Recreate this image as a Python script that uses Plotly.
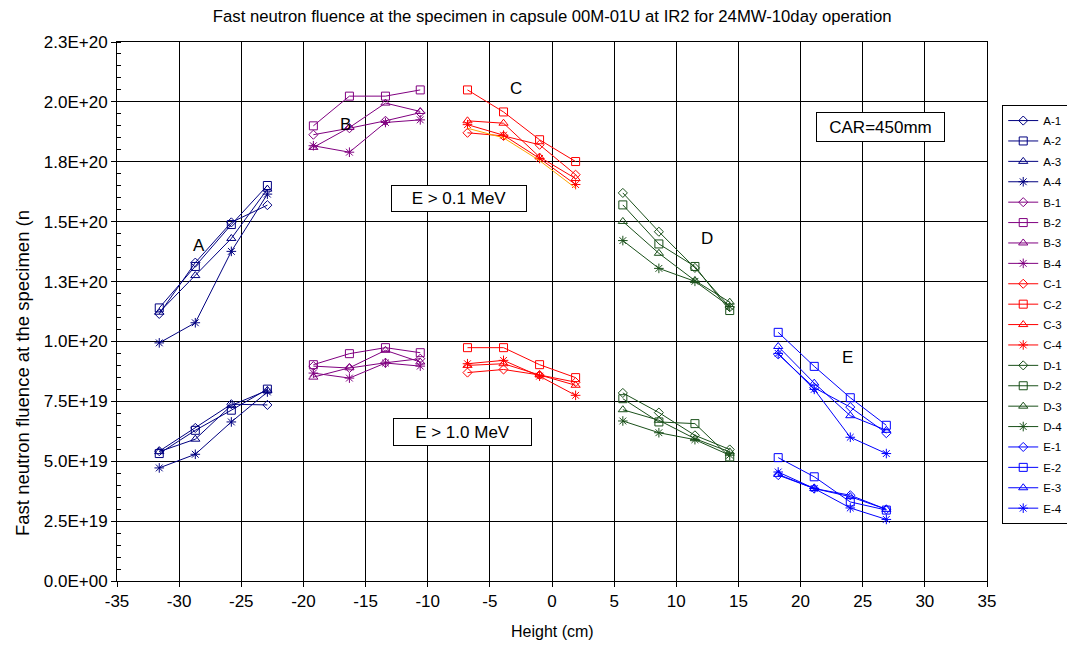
import plotly.graph_objects as go

# ---- data ----
heights_A = [-31.6, -28.7, -25.8, -22.9]
heights_B = [-19.2, -16.3, -13.4, -10.6]
heights_C = [-6.8, -3.9, -1.0, 1.9]
heights_D = [5.7, 8.6, 11.5, 14.3]
heights_E = [18.2, 21.1, 24.0, 26.9]

# E > 0.1 MeV (upper group)
A1_hi = [1.115e20, 1.329e20, 1.497e20, 1.569e20]
A2_hi = [1.140e20, 1.313e20, 1.488e20, 1.651e20]
A3_hi = [1.122e20, 1.275e20, 1.430e20, 1.636e20]
A4_hi = [0.994e20, 1.078e20, 1.376e20, 1.615e20]
B1_hi = [1.863e20, 1.890e20, 1.921e20, 1.955e20]
B2_hi = [1.900e20, 2.024e20, 2.024e20, 2.050e20]
B3_hi = [1.810e20, 1.893e20, 1.995e20, 1.960e20]
B4_hi = [1.817e20, 1.790e20, 1.914e20, 1.925e20]
C1_hi = [1.871e20, 1.858e20, 1.821e20, 1.696e20]
C2_hi = [2.050e20, 1.958e20, 1.842e20, 1.751e20]
C3_hi = [1.921e20, 1.911e20, 1.770e20, 1.680e20]
C4_hi = [1.905e20, 1.861e20, 1.764e20, 1.655e20]
C_extra_hi = [1.890e20, 1.850e20, 1.755e20, 1.640e20]
D1_hi = [1.620e20, 1.458e20, 1.307e20, 1.143e20]
D2_hi = [1.570e20, 1.407e20, 1.313e20, 1.129e20]
D3_hi = [1.501e20, 1.368e20, 1.254e20, 1.164e20]
D4_hi = [1.421e20, 1.305e20, 1.251e20, 1.146e20]
E1_hi = [0.946e20, 0.807e20, 0.726e20, 0.617e20]
E2_hi = [1.038e20, 0.896e20, 0.765e20, 0.650e20]
E3_hi = [0.979e20, 0.826e20, 0.690e20, 0.629e20]
E4_hi = [0.950e20, 0.800e20, 0.600e20, 0.532e20]

# E > 1.0 MeV (lower group)
A1_lo = [0.542e20, 0.639e20, 0.738e20, 0.735e20]
A2_lo = [0.532e20, 0.629e20, 0.713e20, 0.801e20]
A3_lo = [0.540e20, 0.592e20, 0.733e20, 0.796e20]
A4_lo = [0.472e20, 0.529e20, 0.664e20, 0.789e20]
B1_lo = [0.897e20, 0.889e20, 0.911e20, 0.928e20]
B2_lo = [0.903e20, 0.949e20, 0.974e20, 0.953e20]
B3_lo = [0.851e20, 0.890e20, 0.963e20, 0.914e20]
B4_lo = [0.868e20, 0.847e20, 0.910e20, 0.897e20]
C1_lo = [0.870e20, 0.883e20, 0.860e20, 0.830e20]
C2_lo = [0.974e20, 0.974e20, 0.903e20, 0.849e20]
C3_lo = [0.900e20, 0.907e20, 0.860e20, 0.817e20]
C4_lo = [0.907e20, 0.921e20, 0.855e20, 0.775e20]
D1_lo = [0.785e20, 0.703e20, 0.608e20, 0.549e20]
D2_lo = [0.761e20, 0.664e20, 0.657e20, 0.518e20]
D3_lo = [0.715e20, 0.671e20, 0.594e20, 0.539e20]
D4_lo = [0.668e20, 0.619e20, 0.590e20, 0.525e20]
E1_lo = [0.442e20, 0.386e20, 0.358e20, 0.299e20]
E2_lo = [0.515e20, 0.435e20, 0.330e20, 0.296e20]
E3_lo = [0.445e20, 0.386e20, 0.352e20, 0.299e20]
E4_lo = [0.455e20, 0.386e20, 0.305e20, 0.257e20]

y_tickvals = [0, 2.5e19, 5.0e19, 7.5e19, 1.0e20, 1.25e20, 1.5e20, 1.75e20, 2.0e20, 2.25e20]
y_ticktext = ["0.0E+00", "2.5E+19", "5.0E+19", "7.5E+19", "1.0E+20", "1.3E+20",
              "1.5E+20", "1.8E+20", "2.0E+20", "2.3E+20"]
x_tickvals = [-35, -30, -25, -20, -15, -10, -5, 0, 5, 10, 15, 20, 25, 30, 35]
x_ticktext = ["-35", "-30", "-25", "-20", "-15", "-10", "-5", "0", "5", "10", "15", "20", "25", "30", "35"]

series = [
    ("A-1", heights_A, A1_hi, A1_lo), ("A-2", heights_A, A2_hi, A2_lo),
    ("A-3", heights_A, A3_hi, A3_lo), ("A-4", heights_A, A4_hi, A4_lo),
    ("B-1", heights_B, B1_hi, B1_lo), ("B-2", heights_B, B2_hi, B2_lo),
    ("B-3", heights_B, B3_hi, B3_lo), ("B-4", heights_B, B4_hi, B4_lo),
    ("C-1", heights_C, C1_hi, C1_lo), ("C-2", heights_C, C2_hi, C2_lo),
    ("C-3", heights_C, C3_hi, C3_lo), ("C-4", heights_C, C4_hi, C4_lo),
    ("D-1", heights_D, D1_hi, D1_lo), ("D-2", heights_D, D2_hi, D2_lo),
    ("D-3", heights_D, D3_hi, D3_lo), ("D-4", heights_D, D4_hi, D4_lo),
    ("E-1", heights_E, E1_hi, E1_lo), ("E-2", heights_E, E2_hi, E2_lo),
    ("E-3", heights_E, E3_hi, E3_lo), ("E-4", heights_E, E4_hi, E4_lo),
]

colors = {"A": "#000080", "B": "#800080", "C": "#FF0000", "D": "#1A501A", "E": "#0000FF"}
symbols = {"1": "diamond-open", "2": "square-open", "3": "triangle-up-open", "4": "asterisk-open"}
sizes = {"1": 7, "2": 8, "3": 8, "4": 8}

FONT = "Arial, 'Liberation Sans', sans-serif"

fig = go.Figure()
for name, h, hi, lo in series:
    g, k = name.split("-")
    c = colors[g]
    fig.add_trace(go.Scatter(
        x=list(h) + [None] + list(h),
        y=list(hi) + [None] + list(lo),
        mode="lines+markers", name=name, legendgroup=name, connectgaps=False,
        line=dict(color=c, width=1),
        marker=dict(symbol=symbols[k], size=sizes[k], color=c, line=dict(color=c, width=1)),
    ))

fig.add_trace(go.Scatter(
    x=heights_C, y=C_extra_hi, mode="lines", showlegend=False,
    line=dict(color="#FFA500", width=1),
))

annotations = []
for txt, ax, ay in [("A", -28.4, 1.40e20), ("B", -16.6, 1.904e20), ("C", -2.9, 2.054e20),
                    ("D", 12.5, 1.429e20), ("E", 23.8, 0.933e20)]:
    annotations.append(dict(x=ax, y=ay, text=txt, showarrow=False,
                            font=dict(family=FONT, size=17, color="black")))
for txt, ax, ay, w, hgt in [("E > 0.1 MeV", -7.48, 1.596e20, 134, 25),
                            ("E > 1.0 MeV", -7.24, 0.621e20, 137, 26),
                            ("CAR=450mm", 26.4, 1.896e20, 127, 28)]:
    annotations.append(dict(x=ax, y=ay, text=txt, showarrow=False, width=w, height=hgt,
                            bordercolor="black", borderwidth=1, borderpad=0, bgcolor="white",
                            font=dict(family=FONT, size=17, color="black")))
annotations.append(dict(
    x=-0.108, y=0.386, xref="paper", yref="paper", xanchor="center", yanchor="middle",
    text="Fast neutron fluence at the specimen (n", textangle=-90, showarrow=False,
    font=dict(family=FONT, size=18.5, color="black")))
annotations.append(dict(
    x=0.5, y=-0.0946, xref="paper", yref="paper", xanchor="center", yanchor="middle",
    text="Height (cm)", showarrow=False,
    font=dict(family=FONT, size=16, color="black")))

fig.update_layout(
    width=1067, height=637,
    margin=dict(l=109, r=88, t=34, b=64, autoexpand=False),
    paper_bgcolor="white", plot_bgcolor="white",
    font=dict(family=FONT, size=13, color="black"),
    title=dict(text="Fast neutron fluence at the specimen in capsule 00M-01U at IR2 for 24MW-10day operation",
               x=0.51, xanchor="center", y=0.9874, yanchor="middle",
               font=dict(family=FONT, size=16.7, color="black")),
    showlegend=True,
    legend=dict(x=1.0175, xanchor="left", y=0.883, yanchor="top",
                bordercolor="black", borderwidth=1, bgcolor="white",
                font=dict(family=FONT, size=11.5, color="black"),
                tracegroupgap=1.4, itemwidth=30, traceorder="grouped"),
    xaxis=dict(range=[-35, 35], tickvals=x_tickvals, ticktext=x_ticktext,
               showgrid=True, gridcolor="black", gridwidth=1,
               showline=True, linecolor="black", linewidth=1, mirror=True,
               ticks="outside", ticklen=5, tickcolor="black", zeroline=False,
               tickfont=dict(family=FONT, size=17), automargin=False),
    yaxis=dict(range=[0, 2.25e20], tickvals=y_tickvals, ticktext=y_ticktext,
               showgrid=True, gridcolor="black", gridwidth=1,
               showline=True, linecolor="black", linewidth=1, mirror=True,
               ticks="outside", ticklen=5, tickcolor="black", zeroline=False,
               minor=dict(dtick=5e18, tick0=0, ticks="inside", ticklen=4, tickcolor="black", showgrid=False),
               tickfont=dict(family=FONT, size=17), automargin=False),
    annotations=annotations,
)

fig.write_html("out.html")
